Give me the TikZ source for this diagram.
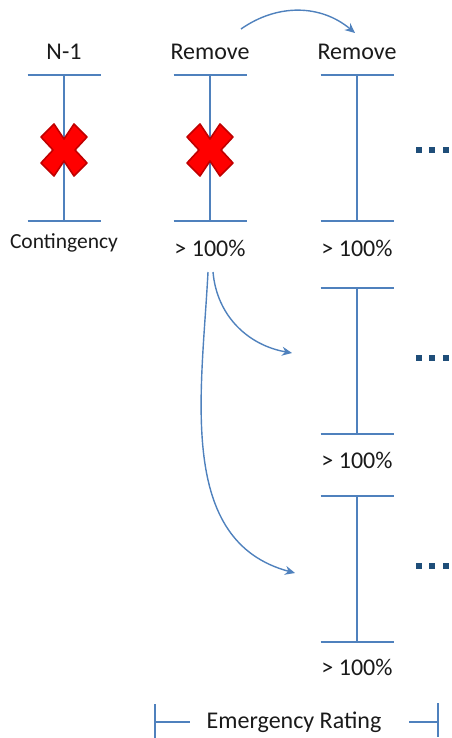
\documentclass[tikz,border=0pt]{standalone}
\usepackage{fontspec}
\setmainfont{Carlito}
\usetikzlibrary{positioning,arrows.meta,calc}
\definecolor{barblue}{HTML}{4F81BD}
\definecolor{dotblue}{HTML}{1F4E79}
\definecolor{xred}{HTML}{FF0000}
\definecolor{xdark}{HTML}{C00000}
\definecolor{txt}{HTML}{1A1A1A}
\tikzset{
  cross/.pic={
    \fill[xred,draw=xdark,line width=1.6pt,line join=round]
      (0,11) -- (10,26) -- (23,13) -- (11,0) -- (23,-13) -- (10,-26) -- (0,-11)
      -- (-10,-26) -- (-23,-13) -- (-11,0) -- (-23,13) -- (-10,26) -- cycle;
  }
}

\begin{document}
\begin{tikzpicture}[x=1pt,y=1pt,
  bar/.style={draw=barblue,line width=1.8pt},
  lbl/.style={font=\fontsize{24}{28}\selectfont,text=txt,inner sep=0pt},
  arr/.style={-{Stealth[length=10pt,width=9pt]},barblue,line width=1.4pt},
  dotbox/.style={fill=dotblue,minimum size=5.5pt,inner sep=0pt}
]
  \useasboundingbox (0,0) rectangle (451,-738);

  % breaker bars
  \foreach \n/\x/\y in {one/64/75,two/210/75,three/357/75,four/357/288,five/357/496}{
    \coordinate (\n-top) at (\x,-\y);
    \coordinate (\n-bot) at (\x,-\y-146);
    \draw[bar] (\x-36.5,-\y) -- (\x+36.5,-\y) (\n-top) -- (\n-bot)
      (\x-36.5,-\y-146) -- (\x+36.5,-\y-146);
  }
  \pic at (64,-150) {cross};
  \pic at (210,-150) {cross};

  \node[lbl] (nm1) at (64,-52) {N-1};
  \node[lbl] (rem1) at (210,-52) {Remove};
  \node[lbl] (rem2) at (357,-52) {Remove};
  \node[lbl,font=\fontsize{21.5}{25}\selectfont] (cont) at (64,-243) {Contingency};
  \node[lbl] (pct1) at (210,-248) {> 100\%};
  \node[lbl] (pct2) at (357,-248) {> 100\%};
  \node[lbl] (pct3) at (357,-460) {> 100\%};
  \node[lbl] (pct4) at (357,-667) {> 100\%};

  % dots
  \foreach \r/\y in {a/150,b/358,c/566}{
    \foreach \i/\x in {1/419,2/432,3/446}{
      \node[dotbox] (dot\r\i) at (\x,-\y) {};
    }
  }

  % arrows
  \coordinate (arcs) at (241,-29);
  \coordinate (arce) at (355,-33);
  \draw[arr] (arcs) to[out=35,in=140] (arce);
  \coordinate (brs) at (213,-272);
  \coordinate (bre) at (292,-353);
  \draw[arr] (brs) to[out=-85,in=170] (bre);
  \coordinate (crs) at (208,-272);
  \coordinate (cre) at (295,-573);
  \draw[arr] (crs) to[out=-93,in=165] (cre);

  % rating bracket
  \node[lbl] (erate) at (294,-722) {Emergency Rating};
  \coordinate (lft) at (155,-722);
  \coordinate (rgt) at (438,-722);
  \draw[bar] (155,-704) -- (155,-738) (lft) -- ++(35,0);
  \draw[bar] (438,-703) -- (438,-737) (rgt) -- ++(-29,0);
\end{tikzpicture}
\end{document}
